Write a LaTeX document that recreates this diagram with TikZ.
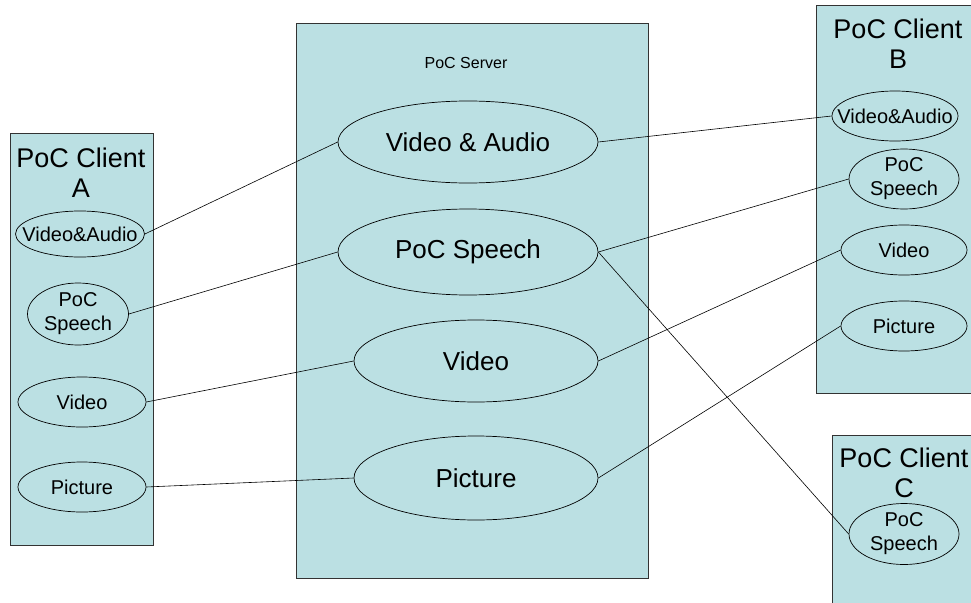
\documentclass[tikz,border=0pt]{standalone}
\usepackage{fontspec}
\setmainfont{Liberation Sans}
\usetikzlibrary{shapes.geometric}
\definecolor{pocblue}{RGB}{187,224,227}
\pgfdeclarelayer{background}
\pgfsetlayers{background,main}
\tikzstyle{client box}=[draw=black!80,fill=pocblue,line width=0.8pt]
\tikzstyle{title}=[align=center,inner sep=0pt,font=\fontsize{27}{30}\selectfont]
\tikzstyle{usecase}=[ellipse,draw,fill=pocblue,inner sep=0pt,line width=0.7pt]
\tikzstyle{small text}=[align=center,inner sep=0pt,font=\fontsize{20}{24}\selectfont]
\tikzstyle{big text}=[align=center,inner sep=0pt,font=\fontsize{26}{30}\selectfont]
\tikzstyle{edge}=[draw,line width=0.6pt,-]

\begin{document}
\begin{tikzpicture}[x=1pt,y=-1pt]
    \useasboundingbox (0,0) rectangle (971,602);
    \clip (0,0) rectangle (971,602);

    % titles
    \node[title] (titleA) at (81,173) {PoC Client\\A};
    \node[title] (titleB) at (898,44) {PoC Client\\B};
    \node[title] (titleC) at (904,473) {PoC Client\\C};
    \node[font=\fontsize{16}{19}\selectfont] (titleS) at (466,63) {PoC Server};

    % clients
    \foreach \pos/\name/\w/\h/\txt in {{(80,234)/aVA/129/46/Video\&Audio}, {(78,314)/aSp/101/62/PoC\\Speech},
                            {(82,402)/aVi/128/50/Video}, {(82,487)/aPi/128/50/Picture},
                            {(895,116)/bVA/126/50/Video\&Audio}, {(904,179)/bSp/110/60/PoC\\Speech},
                            {(904,250)/bVi/126/50/Video}, {(904,326)/bPi/126/50/Picture},
                            {(904,534)/cSp/110/61/PoC\\Speech}}
        \node[usecase, minimum width=\w, minimum height=\h, label={[small text]center:\txt}] (\name) at \pos {};

    % server
    \foreach \pos/\name/\w/\h/\txt in {{(468,142)/sVA/260/82/Video \& Audio}, {(468,252)/sSp/260/86/PoC Speech},
                            {(476,361)/sVi/244/82/Video}, {(476,478)/sPi/244/84/Picture}}
        \node[usecase, minimum width=\w, minimum height=\h, label={[big text]center:\txt}] (\name) at \pos {};

    \foreach \source/\dest in {aVA/sVA, aSp/sSp, aVi/sVi, aPi/sPi,
                               sVA/bVA, sSp/bSp, sSp/cSp, sVi/bVi, sPi/bPi}
        \path[edge] (\source.east) -- (\dest.west);

    \begin{pgfonlayer}{background}
        \draw[client box] (10,133) rectangle (153,545);
        \draw[client box] (296,23) rectangle (648,578);
        \draw[client box] (816,5) rectangle (985,393);
        \draw[client box] (832,435) rectangle (990,610);
    \end{pgfonlayer}
\end{tikzpicture}
\end{document}
